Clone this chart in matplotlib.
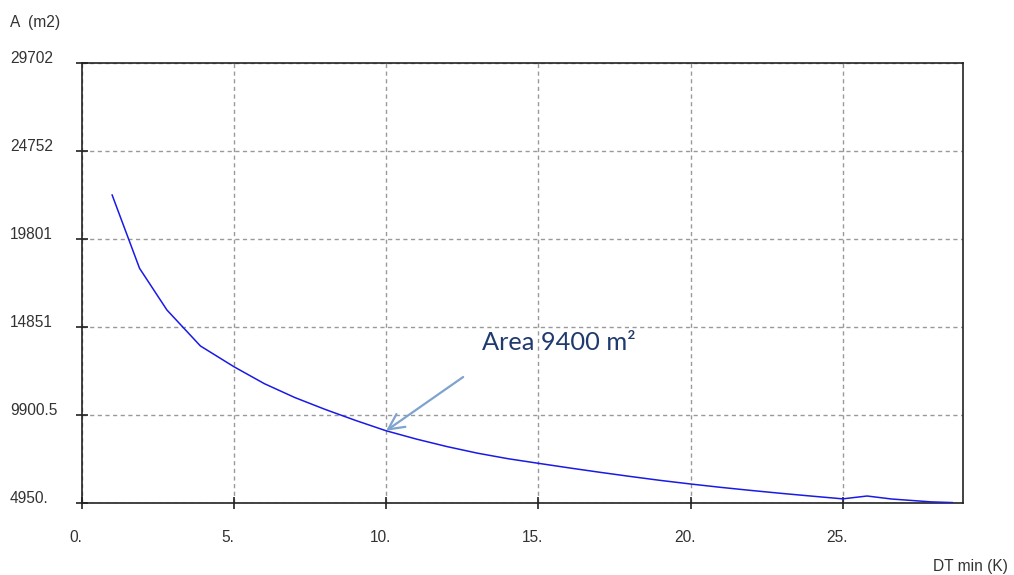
import matplotlib
matplotlib.use("Agg")
import matplotlib.pyplot as plt
import matplotlib.transforms as mtransforms

# Data
dt_min = [1.0, 1.9, 2.8, 3.9, 5.0, 6.0, 7.0, 8.0, 9.0, 10.0, 11.0, 12.0, 13.0, 14.0,
          15.0, 16.0, 17.0, 18.0, 19.0, 20.0, 21.0, 22.0, 23.0, 24.0, 25.0, 25.8,
          26.6, 27.9, 28.6]
area = [22292, 18169, 15823, 13800, 12634, 11680, 10900, 10230, 9610, 9030, 8560,
        8140, 7770, 7460, 7200, 6945, 6700, 6465, 6240, 6036, 5846, 5671, 5506,
        5351, 5200, 5360, 5192, 5030, 4990]

x_ticks = [0, 5, 10, 15, 20, 25]
x_tick_labels = ["0.", "5.", "10.", "15.", "20.", "25."]
y_ticks = [4950, 9900.5, 14851, 19801, 24752, 29702]
y_tick_labels = ["4950.", "9900.5", "14851", "19801", "24752", "29702"]

annot_text = "Area 9400 m²"
annot_xy = (10.0, 9030)
annot_tail = (12.53, 12054)
annot_text_pos = (13.15, 14023)

W, H = 1014, 575
fig = plt.figure(figsize=(W / 100, H / 100), dpi=100)
ax = fig.add_axes([81.7 / W, 1 - 503.3 / H, (962.7 - 81.7) / W, (503.3 - 63.3) / H])

ax.plot(dt_min, area, color="#1a1ae6", lw=1.1, zorder=3)

ax.set_xlim(0, 28.94)
ax.set_ylim(4950, 29702)
ax.set_xticks(x_ticks)
ax.set_yticks(y_ticks)
ax.set_xticklabels([])
ax.set_yticklabels([])
ax.tick_params(axis="both", direction="inout", length=8, width=1.2, color="#222222")

ax.grid(True, color="#999999", linestyle=(0, (3, 2.5)), linewidth=1.0)
for s in ax.spines.values():
    s.set_color("#222222")
    s.set_linewidth(1.2)

lab_font = dict(family=["Liberation Sans", "DejaVu Sans"], fontsize=11.2, color="#333333")

# y tick labels, left aligned near figure edge, slightly above the gridline
ytr = mtransforms.blended_transform_factory(fig.transFigure, ax.transData)
ytr = ytr + mtransforms.ScaledTranslation(0, 5 / 100, fig.dpi_scale_trans)
for v, t in zip(y_ticks, y_tick_labels):
    ax.text(10 / W, v, t, transform=ytr, ha="left", va="center", clip_on=False, **lab_font)

# x tick labels
xtr = mtransforms.blended_transform_factory(ax.transData, fig.transFigure)
xtr = xtr + mtransforms.ScaledTranslation(-6 / 100, 0, fig.dpi_scale_trans)
for v, t in zip(x_ticks, x_tick_labels):
    ax.text(v, 1 - 537 / H, t, transform=xtr, ha="center", va="center", clip_on=False, **lab_font)

fig.text(10 / W, 1 - 22 / H, "A  (m2)", ha="left", va="center", **lab_font)
fig.text(1008 / W, 1 - 567 / H, "DT min (K)", ha="right", va="center", **lab_font)

ax.annotate("", xy=annot_xy, xytext=annot_tail,
            arrowprops=dict(arrowstyle="->, head_length=0.7, head_width=0.35",
                            color="#7fa3cf", lw=1.6, mutation_scale=16,
                            shrinkA=0, shrinkB=0), zorder=4)
ax.text(annot_text_pos[0], annot_text_pos[1], annot_text, ha="left", va="center",
        family=["Lato", "DejaVu Sans"], fontsize=18.3, color="#1f3a6e", zorder=5)

fig.savefig("out.png", dpi=100)
